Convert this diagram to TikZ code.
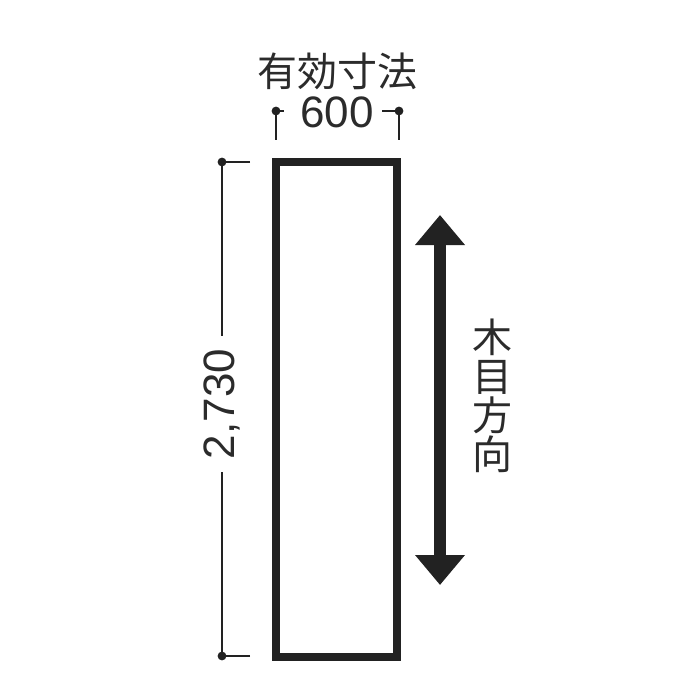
\documentclass[tikz,border=0pt]{standalone}
\usepackage{fontspec}
\setmainfont{Liberation Sans}
\newfontfamily\jp{Noto Sans CJK JP}
\usetikzlibrary{arrows.meta}
\definecolor{ink}{HTML}{222222}
\definecolor{txt}{HTML}{2B2B2B}
\tikzset{
  dimline/.style={draw=ink,line width=1.1pt},
  dimdot/.style={circle,fill=ink,inner sep=0pt,minimum size=4.4pt},
  panelbox/.style={draw=ink,line width=4.2pt,fill=white},
  grain/.style={draw=ink,line width=5.6pt,
    {Triangle[width=24pt,length=15pt]}-{Triangle[width=24pt,length=15pt]}},
  lbl/.style={text=txt,inner sep=0pt},
}
\begin{document}
\begin{tikzpicture}[x=0.5pt,y=-0.5pt]
\useasboundingbox (0,0) rectangle (700,700);
% panel
\draw[panelbox] (276,162) rectangle (397,657);
% top dimension
\node[lbl,font=\jp\fontsize{20}{20}\selectfont] (title) at (337,71) {有効寸法};
\node[lbl,font=\fontsize{22}{22}\selectfont] (w) at (337,112) {600};
\node[dimdot] (tl) at (276,111) {};
\node[dimdot] (tr) at (399,111) {};
\coordinate (tlb) at (276,140);
\coordinate (trb) at (399,140);
\coordinate (tlh) at (284,111);
\coordinate (trh) at (382,111);
\draw[dimline] (tlb) -- (tl.center) -- (tlh);
\draw[dimline] (trb) -- (tr.center) -- (trh);
% left dimension
\node[dimdot] (lt) at (222,162) {};
\node[dimdot] (lb) at (222,656) {};
\coordinate (lth) at (250,162);
\coordinate (lbh) at (250,656);
\node[lbl,rotate=90,font=\fontsize{22}{22}\selectfont] (h) at (222,404) {2,730};
\coordinate (hup) at (222,336);
\coordinate (hdn) at (222,472);
\draw[dimline] (lth) -- (lt.center) -- (hup);
\draw[dimline] (lbh) -- (lb.center) -- (hdn);
% grain arrow
\coordinate (ga) at (440,215);
\coordinate (gb) at (440,585);
\draw[grain] (ga) -- (gb);
\node[lbl,font=\jp\fontsize{20}{19.5}\selectfont,align=center] (gt) at (492,396) {木\\目\\方\\向};
\end{tikzpicture}
\end{document}
